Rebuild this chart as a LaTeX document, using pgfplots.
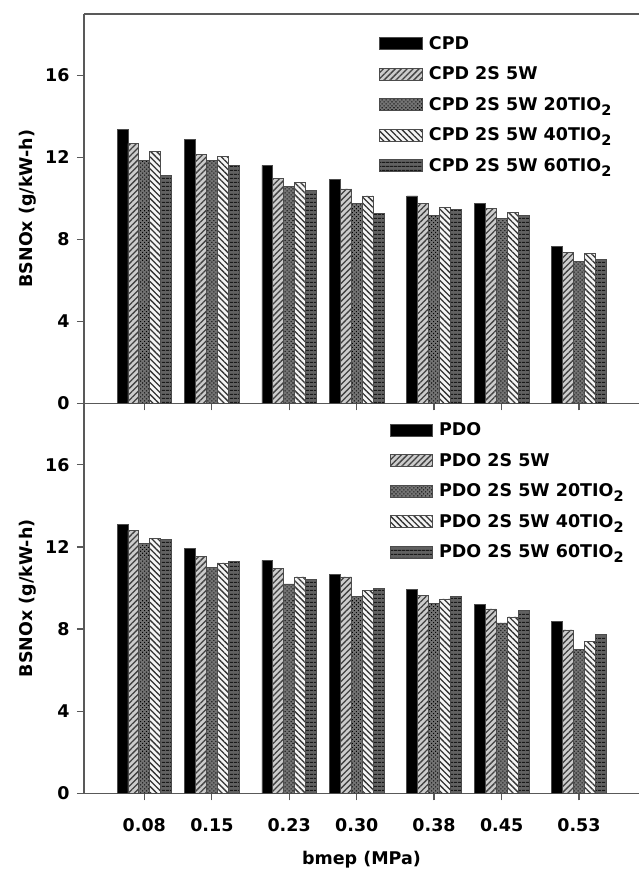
\documentclass[border=0pt]{standalone}
\usepackage{fontspec}
\setmainfont{DejaVu Sans}
\usepackage{pgfplots}
\pgfplotsset{compat=1.18}
\usetikzlibrary{patterns.meta}
\newcommand\ff{\fontsize{17.5}{21}\selectfont\bfseries}
\newcommand\sub[1]{\raisebox{-5pt}{\fontsize{14.5}{14.5}\selectfont\bfseries #1}}
\pgfplotsset{
  panel/.style={
    scale only axis, width=555pt,
    xmin=0.0176, xmax=0.5922, ymin=0, ymax=19,
    ybar=0pt, bar width=10.9pt,
    xtick={0.08,0.15,0.23,0.30,0.38,0.45,0.53},
    ytick={0,4,8,12,16},
    yticklabels={0,4,8,12,16},
    tick align=outside, xtick pos=left, ytick pos=left,
    major tick length=7pt,
    axis line style={black!65, line width=1.2pt},
    every tick/.style={black!65, line width=1.2pt},
    tick label style={font=\ff},
    xticklabel style={yshift=-15pt},
    yticklabel style={xshift=-4pt},
    ylabel style={at={(axis description cs:-0.101,0.5)}, anchor=center, font=\ff},
    xlabel style={at={(axis description cs:0.5,-0.171)}, anchor=center, font=\ff},
    ylabel={BSNOx (g/kW-h)},
    legend style={draw=none, fill=none, font=\ff, row sep=16pt, inner sep=0pt,
      nodes={inner xsep=6pt, inner ysep=0pt}},
    legend cell align=left,
    every axis plot/.append style={legend image code/.code={\draw[##1] (0pt,-6pt) rectangle (42.7pt,6pt);}},
  },
  s1/.style={fill=black, draw=black!70, line width=0.8pt},
  s2/.style={fill=black!20, draw=black!70, line width=0.8pt, postaction={pattern={Lines[angle=45,distance=4.2pt,line width=1.3pt]}, pattern color=black!75}},
  s3/.style={fill=black!55, draw=black!70, line width=0.8pt, postaction={pattern={Dots[angle=45,distance=2.8pt,radius=0.75pt]}, pattern color=black}},
  s4/.style={fill=black!4, draw=black!70, line width=0.8pt, postaction={pattern={Lines[angle=-45,distance=4.2pt,line width=1.3pt]}, pattern color=black!80}},
  s5/.style={fill=black!62, draw=black!70, line width=0.8pt, postaction={pattern={Lines[angle=0,distance=4pt,line width=1.2pt]}, pattern color=black!90}},
}
\begin{document}
\begin{tikzpicture}
\begin{axis}[panel, name=top, at={(0,0)}, anchor=south west, height=389.3pt,
  axis y line*=left, xticklabels={},
  legend style={at={(0.532,0.943)}, anchor=north west}]
\addplot[s1] coordinates {(0.08,13.36) (0.15,12.87) (0.23,11.61) (0.30,10.93) (0.38,10.12) (0.45,9.77) (0.53,7.65)};
\addplot[s2] coordinates {(0.08,12.68) (0.15,12.14) (0.23,10.99) (0.30,10.46) (0.38,9.77) (0.45,9.51) (0.53,7.37)};
\addplot[s3] coordinates {(0.08,11.87) (0.15,11.87) (0.23,10.59) (0.30,9.77) (0.38,9.17) (0.45,9.01) (0.53,6.92)};
\addplot[s4] coordinates {(0.08,12.27) (0.15,12.06) (0.23,10.80) (0.30,10.12) (0.38,9.58) (0.45,9.30) (0.53,7.31)};
\addplot[s5] coordinates {(0.08,11.12) (0.15,11.61) (0.23,10.39) (0.30,9.26) (0.38,9.45) (0.45,9.17) (0.53,7.04)};
\legend{CPD, CPD 2S 5W, CPD 2S 5W 20TIO\sub{2}, CPD 2S 5W 40TIO\sub{2}, CPD 2S 5W 60TIO\sub{2}}
\end{axis}
\begin{axis}[panel, at={(top.south west)}, anchor=north west, height=390pt,
  axis x line*=bottom, axis y line*=left,
  xticklabels={0.08,0.15,0.23,0.30,0.38,0.45,0.53},
  xlabel={bmep (MPa)},
  legend style={at={(0.5503,0.95)}, anchor=north west}]
\addplot[s1] coordinates {(0.08,13.10) (0.15,11.95) (0.23,11.35) (0.30,10.67) (0.38,9.95) (0.45,9.19) (0.53,8.37)};
\addplot[s2] coordinates {(0.08,12.81) (0.15,11.54) (0.23,10.94) (0.30,10.54) (0.38,9.65) (0.45,8.98) (0.53,7.96)};
\addplot[s3] coordinates {(0.08,12.16) (0.15,11.02) (0.23,10.20) (0.30,9.60) (0.38,9.24) (0.45,8.30) (0.53,7.03)};
\addplot[s4] coordinates {(0.08,12.43) (0.15,11.22) (0.23,10.54) (0.30,9.89) (0.38,9.47) (0.45,8.59) (0.53,7.41)};
\addplot[s5] coordinates {(0.08,12.35) (0.15,11.30) (0.23,10.41) (0.30,10.00) (0.38,9.60) (0.45,8.93) (0.53,7.76)};
\legend{PDO, PDO 2S 5W, PDO 2S 5W 20TIO\sub{2}, PDO 2S 5W 40TIO\sub{2}, PDO 2S 5W 60TIO\sub{2}}
\end{axis}
\pgfresetboundingbox
\path[use as bounding box] (-84pt,-470.7pt) rectangle (555pt,403.3pt);
\end{tikzpicture}
\end{document}
